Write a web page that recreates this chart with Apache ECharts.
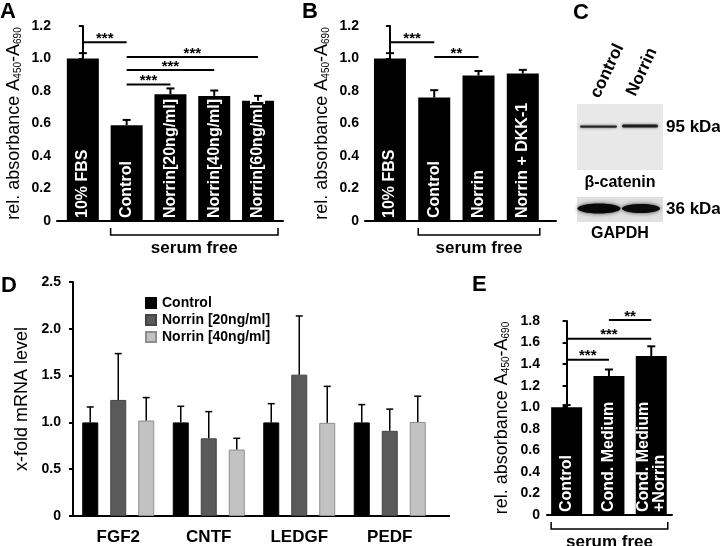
<!DOCTYPE html>
<html><head><meta charset="utf-8">
<script src="https://cdn.jsdelivr.net/npm/echarts@6/dist/echarts.min.js"></script>
<style>html,body{margin:0;padding:0;background:#fff}#c{width:720px;height:546px}</style>
</head><body><div id="c"></div>
<script>
// ---------- Panel A ----------
const catA = ['10% FBS', 'Control', 'Norrin[20ng/ml]', 'Norrin[40ng/ml]', 'Norrin[60ng/ml]'];
const valA = [1.0, 0.59, 0.78, 0.77, 0.74];
const errA = [0.033, 0.032, 0.036, 0.033, 0.030];
const sigA = [[0, 1, 1.10, '***'], [1, 4, 1.01, '***'], [1, 3, 0.93, '***'], [1, 2, 0.84, '***']];
const bracketA = [1, 4];
// ---------- Panel B ----------
const catB = ['10% FBS', 'Control', 'Norrin', 'Norrin + DKK-1'];
const valB = [1.0, 0.76, 0.895, 0.908];
const errB = [0.033, 0.045, 0.028, 0.022];
const sigB = [[0, 1, 1.10, '***'], [1, 2, 1.01, '**']];
const bracketB = [1, 3];
// ---------- Panel D ----------
const catD = ['FGF2', 'CNTF', 'LEDGF', 'PEDF'];
const namesD = ['Control', 'Norrin [20ng/ml]', 'Norrin [40ng/ml]'];
const ctrlD = [1.0, 1.0, 1.0, 1.0];
const ctrlErrD = [0.165, 0.172, 0.20, 0.19];
const n20D = [1.24, 0.83, 1.51, 0.91];
const n20ErrD = [0.495, 0.285, 0.627, 0.232];
const n40D = [1.02, 0.71, 0.995, 1.005];
const n40ErrD = [0.245, 0.12, 0.39, 0.275];
// ---------- Panel E ----------
const catE = ['Control', 'Cond. Medium', 'Cond. Medium\n+Norrin'];
const valE = [1.0, 1.29, 1.475];
const errE = [0.02, 0.06, 0.09];
const sigE = [[0, 1, 1.44, '***'], [0, 2, 1.635, '***'], [1, 2, 1.81, '**']];
const bracketE = [0, 2];
const serumText = 'serum free';
const yNameAbs = '{m|rel. absorbance A}{s|450}{m|-A}{s|690}';
const yNameD = 'x-fold mRNA level';

const FONT = '"Liberation Sans", Arial, sans-serif';
const NAME_SIZE = 18;
const chart = echarts.init(document.getElementById('c'), null, {renderer: 'canvas'});

function yAxisCfg(gi, max, interval, name, nameGap, margin) {
  return {
    type: 'value', gridIndex: gi, min: 0, max: max, interval: interval,
    axisLine: {show: true, lineStyle: {color: '#000', width: 2}},
    axisTick: {show: true, length: 4, lineStyle: {color: '#000', width: 2}},
    axisLabel: {color: '#000', fontWeight: 'bold', fontSize: 14, fontFamily: FONT, margin: margin,
      formatter: v => (v === 0 ? '0' : v.toFixed(1))},
    splitLine: {show: false},
    name: name, nameLocation: 'middle', nameGap: nameGap,
    nameTextStyle: {color: '#000', fontSize: NAME_SIZE, fontFamily: FONT,
      rich: {m: {fontSize: NAME_SIZE, fontFamily: FONT, color: '#000', verticalAlign: 'bottom', lineHeight: 21},
             s: {fontSize: 10, fontFamily: FONT, color: '#000', verticalAlign: 'bottom', lineHeight: 21}}}
  };
}
function xValCfg(gi, min, max) {
  return {type: 'value', gridIndex: gi, min: min, max: max,
    axisLine: {show: true, onZero: false, lineStyle: {color: '#000', width: 2}},
    axisTick: {show: false}, axisLabel: {show: false}, splitLine: {show: false}};
}
function barSeries(gi, cats, vals, width) {
  return {
    type: 'bar', xAxisIndex: gi, yAxisIndex: gi, barWidth: width, z: 2,
    data: vals.map((v, i) => [i, v]),
    itemStyle: {color: '#000'},
    label: {show: true, position: 'insideBottom', rotate: 90, align: 'left', verticalAlign: 'middle',
      distance: 3, color: '#fff', fontWeight: 'bold', fontSize: 16, fontFamily: FONT, lineHeight: 16,
      formatter: p => cats[p.value[0]]}
  };
}
function errSeries(gi, vals, errs, offset, cap, lw) {
  return {
    type: 'custom', xAxisIndex: gi, yAxisIndex: gi, z: 5, silent: true,
    data: vals.map((v, i) => [i, v, errs[i]]),
    renderItem: (params, api) => {
      const x = api.value(0), v = api.value(1), e = api.value(2);
      const p0 = api.coord([x, v]), p1 = api.coord([x, v + e]);
      const cx = p0[0] + offset;
      return {type: 'group', children: [
        {type: 'line', shape: {x1: cx, y1: p0[1], x2: cx, y2: p1[1]}, style: {stroke: '#000', lineWidth: lw}},
        {type: 'line', shape: {x1: cx - cap / 2, y1: p1[1], x2: cx + cap / 2, y2: p1[1]}, style: {stroke: '#000', lineWidth: lw}}
      ]};
    }
  };
}
function sigSeries(gi, list) {
  return {
    type: 'custom', xAxisIndex: gi, yAxisIndex: gi, z: 5, silent: true, clip: false,
    data: list.map(s => [s[0], s[2]]),
    renderItem: (params, api) => {
      const s = list[params.dataIndex];
      const p1 = api.coord([s[0], s[2]]), p2 = api.coord([s[1], s[2]]);
      return {type: 'group', children: [
        {type: 'line', shape: {x1: p1[0], y1: p1[1], x2: p2[0], y2: p2[1]}, style: {stroke: '#000', lineWidth: 2}},
        {type: 'text', style: {text: s[3], x: (p1[0] + p2[0]) / 2, y: p1[1] - 11, align: 'center', verticalAlign: 'top',
          font: 'bold 15px ' + FONT, fill: '#000'}}
      ]};
    }
  };
}
function bracketSeries(gi, br, halfW, extraL, extraR) {
  return {
    type: 'custom', xAxisIndex: gi, yAxisIndex: gi, z: 5, silent: true, clip: false,
    data: [[br[0], 0]],
    renderItem: (params, api) => {
      const a = api.coord([br[0], 0]), b = api.coord([br[1], 0]);
      const L = a[0] - halfW - extraL, R = b[0] + halfW + extraR, y0 = a[1];
      return {type: 'group', children: [
        {type: 'polyline', shape: {points: [[L, y0 + 7], [L, y0 + 14], [R, y0 + 14], [R, y0 + 7]]},
          style: {stroke: '#000', lineWidth: 1.5, fill: null}},
        {type: 'text', style: {text: serumText, x: (L + R) / 2, y: y0 + 27, align: 'center', verticalAlign: 'middle',
          font: 'bold 17px ' + FONT, fill: '#000'}}
      ]};
    }
  };
}

const dColors = ['#000000', '#5a5a5a', '#c2c2c2'];
const dBorders = ['#000000', '#444444', '#8e8e8e'];
const dVals = [ctrlD, n20D, n40D];
const dErrs = [ctrlErrD, n20ErrD, n40ErrD];
const dOffsets = [-28, 0, 28];

const series = [
  barSeries(0, catA, valA, 32), errSeries(0, valA, errA, 0, 8, 2), sigSeries(0, sigA), bracketSeries(0, bracketA, 16, 0, 4),
  barSeries(1, catB, valB, 32), errSeries(1, valB, errB, 0, 8, 2), sigSeries(1, sigB), bracketSeries(1, bracketB, 16, 0, 1),
  barSeries(3, catE, valE, 31), errSeries(3, valE, errE, 0, 8, 2), sigSeries(3, sigE), bracketSeries(3, bracketE, 15.5, 0, 1)
];
namesD.forEach((nm, k) => {
  series.push({type: 'bar', name: nm, xAxisIndex: 2, yAxisIndex: 2, data: dVals[k], barWidth: 16, barGap: '75%',
    itemStyle: {color: dColors[k], borderColor: dBorders[k], borderWidth: 1}});
});
namesD.forEach((nm, k) => {
  series.push(errSeries(2, dVals[k], dErrs[k], dOffsets[k], 7, 1.5));
});

const letter = (t, x, y) => ({type: 'text', x: x, y: y, style: {text: t, font: 'bold 22px ' + FONT, fill: '#000', align: 'left', verticalAlign: 'top'}});
const txt = (t, x, y, size, align, extra) => Object.assign({type: 'text', x: x, y: y,
  style: {text: t, font: 'bold ' + size + 'px ' + FONT, fill: '#000', align: align, verticalAlign: 'middle'}}, extra || {});

const graphic = [
  letter('A', 0, 1), letter('B', 302, 1), letter('C', 573, 2), letter('D', 1, 275), letter('E', 472, 274),
  // D x-axis line continuation to the right edge of the panel
  {type: 'line', shape: {x1: 434, y1: 516, x2: 450, y2: 516}, style: {stroke: '#000', lineWidth: 2}},
  // Panel C blot: beta-catenin
  {type: 'rect', shape: {x: 577, y: 104, width: 86, height: 66}, style: {fill: '#e8e8e8'}},
  {type: 'rect', shape: {x: 580, y: 125.5, width: 37, height: 2.2, r: 1.1}, style: {fill: '#2a2a2a', shadowBlur: 3, shadowColor: 'rgba(0,0,0,0.6)'}},
  {type: 'rect', shape: {x: 622, y: 124.5, width: 36, height: 3, r: 1.5}, style: {fill: '#1e1e1e', shadowBlur: 3, shadowColor: 'rgba(0,0,0,0.6)'}},
  // GAPDH blot
  {type: 'rect', shape: {x: 577, y: 197, width: 86, height: 25}, style: {fill: '#e0e0e0'}},
  {type: 'ellipse', shape: {cx: 599, cy: 208.5, rx: 21.5, ry: 5}, style: {fill: '#080808', shadowBlur: 4, shadowColor: 'rgba(0,0,0,0.7)'}},
  {type: 'ellipse', shape: {cx: 641, cy: 208.5, rx: 19, ry: 4.5}, style: {fill: '#0c0c0c', shadowBlur: 4, shadowColor: 'rgba(0,0,0,0.7)'}},
  txt('95 kDa', 666, 127, 17, 'left'),
  txt('β-catenin', 620, 183, 16, 'center'),
  txt('36 kDa', 666, 209, 17, 'left'),
  txt('GAPDH', 620, 234, 16, 'center'),
  txt('control', 595, 97, 17, 'left', {rotation: 1.13}),
  txt('Norrin', 631, 95, 17, 'left', {rotation: 1.13})
];

chart.setOption({
  animation: false,
  backgroundColor: '#fff',
  textStyle: {fontFamily: FONT},
  grid: [
    {left: 57, top: 26, width: 226, height: 195},
    {left: 365, top: 26, width: 191, height: 195},
    {left: 73, top: 282, width: 362, height: 234},
    {left: 547, top: 321, width: 125, height: 194}
  ],
  xAxis: [
    xValCfg(0, -0.59, 4.57),
    xValCfg(1, -0.564, 3.75),
    {type: 'category', gridIndex: 2, data: catD,
      axisLine: {show: true, lineStyle: {color: '#000', width: 2}},
      axisTick: {show: false},
      axisLabel: {color: '#000', fontWeight: 'bold', fontSize: 17, fontFamily: FONT, margin: 13},
      splitLine: {show: false}},
    xValCfg(3, -0.464, 2.49)
  ],
  yAxis: [
    yAxisCfg(0, 1.2, 0.2, yNameAbs, 34, 6),
    yAxisCfg(1, 1.2, 0.2, yNameAbs, 34, 6),
    yAxisCfg(2, 2.5, 0.5, yNameD, 32, 12),
    yAxisCfg(3, 1.8, 0.2, yNameAbs, 36, 7)
  ],
  legend: {
    data: namesD, orient: 'vertical', left: 140, top: 291, itemWidth: 10, itemHeight: 10, itemGap: 3,
    icon: 'rect', textStyle: {color: '#000', fontWeight: 'bold', fontSize: 14, fontFamily: FONT, padding: [0, 0, 0, 1]}
  },
  series: series,
  graphic: graphic
});
</script></body></html>
